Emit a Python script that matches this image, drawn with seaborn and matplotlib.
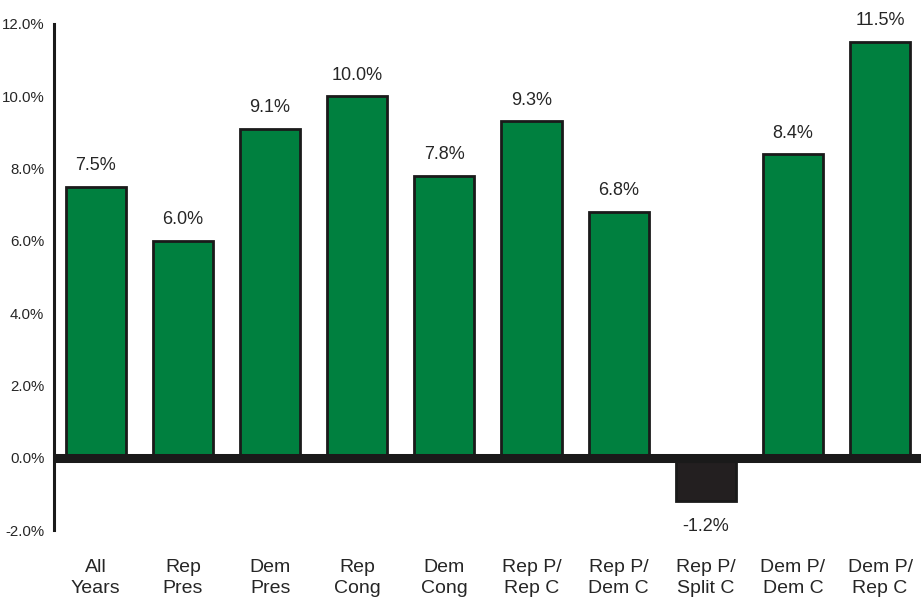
import matplotlib
matplotlib.use("Agg")
import matplotlib.pyplot as plt
import seaborn as sns
import pandas as pd

categories = ["All\nYears", "Rep\nPres", "Dem\nPres", "Rep\nCong", "Dem\nCong",
              "Rep P/\nRep C", "Rep P/\nDem C", "Rep P/\nSplit C", "Dem P/\nDem C", "Dem P/\nRep C"]
returns = [7.5, 6.0, 9.1, 10.0, 7.8, 9.3, 6.8, -1.2, 8.4, 11.5]
y_ticks = [-2.0, 0.0, 2.0, 4.0, 6.0, 8.0, 10.0, 12.0]

GREEN = "#00803f"
DARK = "#231f20"

sns.set_style("white")
plt.rcParams["font.family"] = ["Liberation Sans", "DejaVu Sans"]

df = pd.DataFrame({"category": categories, "ret": returns})
colors = [GREEN if v >= 0 else DARK for v in returns]

fig = plt.figure(figsize=(9.21, 6.0), dpi=100)
ax = fig.add_axes([54 / 921, 70 / 600, 1 - 54 / 921, 530 / 600])

sns.barplot(data=df, x="category", y="ret", hue="category", palette=colors,
            legend=False, width=0.69, edgecolor="#1a1a1a", linewidth=2.0,
            saturation=1, ax=ax)

# heavy zero line
ax.axhline(0, color="#1a1a1a", linewidth=6.5, zorder=5)

ax.set_xlim(-0.48, 9.47)
ax.set_ylim(-2.0, 12.66)
ax.set_yticks(y_ticks)
ax.set_yticklabels([f"{t:.1f}%" for t in y_ticks], fontsize=10.8)
ax.tick_params(axis="y", length=5, width=2, pad=2, color="#1a1a1a")
ax.tick_params(axis="x", length=0, pad=21, labelsize=14)
for lbl in ax.get_xticklabels():
    lbl.set_linespacing(1.3)
ax.set_xlabel("")
ax.set_ylabel("")

for side in ["top", "right", "bottom"]:
    ax.spines[side].set_visible(False)
ax.spines["left"].set_linewidth(2.2)
ax.spines["left"].set_color("#1a1a1a")
ax.spines["left"].set_bounds(-2.0, 12.0)

for i, v in enumerate(returns):
    if v >= 0:
        ax.annotate(f"{v:.1f}%", (i, v), xytext=(0, 9), textcoords="offset points",
                    ha="center", va="bottom", fontsize=13)
    else:
        ax.annotate(f"{v:.1f}%", (i, v), xytext=(0, -12), textcoords="offset points",
                    ha="center", va="top", fontsize=13)

fig.savefig("out.png", dpi=100)
